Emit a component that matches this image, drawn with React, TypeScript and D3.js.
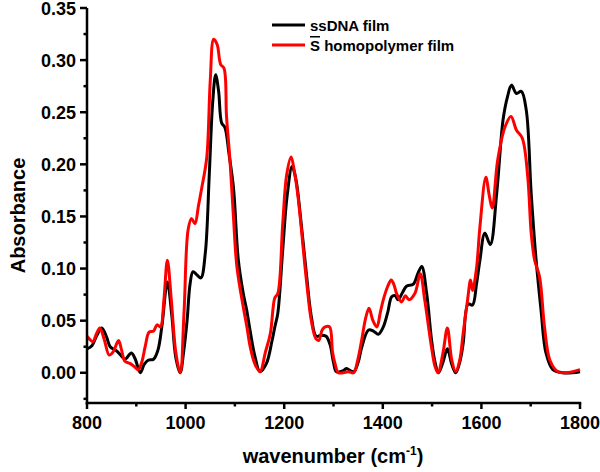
import React from "react";
import * as d3 from "d3";

// ssDNA film
const wnDNA = [800,810,820,830,840,847,860,870,877,890,898,908,916,924,935,944,952,963,972,980,989,996,1003,1009,1015,1023,1031,1040,1048,1055,1061,1067,1073,1080,1088,1097,1107,1117,1124,1131,1141,1151,1164,1175,1181,1187,1197,1206,1216,1224,1231,1245,1255,1265,1275,1285,1293,1300,1306,1320,1326,1341,1350,1357,1371,1381,1391,1401,1410,1418,1425,1431,1440,1448,1462,1471,1479,1489,1499,1506,1513,1522,1531,1540,1548,1556,1563,1573,1582,1590,1597,1607,1618,1631,1644,1653,1661,1671,1681,1691,1701,1711,1721,1731,1745,1765,1785,1800];
const absDNA = [0.023,0.026,0.036,0.043,0.034,0.025,0.021,0.016,0.013,0.019,0.013,0.0,0.008,0.012,0.013,0.022,0.045,0.087,0.055,0.015,0.0,0.02,0.05,0.085,0.097,0.094,0.091,0.115,0.19,0.26,0.286,0.27,0.24,0.235,0.21,0.178,0.108,0.076,0.06,0.04,0.015,0.001,0.009,0.03,0.044,0.057,0.118,0.17,0.198,0.185,0.159,0.095,0.054,0.035,0.036,0.035,0.027,0.01,0.001,0.002,0.004,0.001,0.01,0.024,0.041,0.04,0.037,0.044,0.058,0.073,0.074,0.07,0.077,0.083,0.085,0.095,0.102,0.076,0.031,0.01,0.0,0.01,0.023,0.008,0.0,0.01,0.028,0.066,0.065,0.085,0.108,0.134,0.123,0.172,0.243,0.265,0.276,0.268,0.27,0.252,0.172,0.108,0.06,0.019,0.003,0.0,0.0,0.001];

// S homopolymer film
const wnS = [800,812,818,826,835,845,853,864,870,877,887,896,904,911,918,926,935,942,949,956,963,971,980,989,997,1005,1012,1019,1026,1033,1043,1050,1057,1064,1071,1078,1083,1090,1097,1104,1117,1124,1131,1141,1151,1162,1172,1181,1187,1197,1205,1214,1220,1228,1245,1255,1264,1270,1277,1283,1292,1298,1303,1310,1330,1341,1349,1357,1365,1372,1380,1388,1395,1401,1410,1417,1423,1428,1438,1446,1453,1465,1476,1485,1499,1506,1512,1522,1531,1540,1548,1556,1563,1572,1578,1582,1590,1597,1609,1616,1622,1633,1648,1660,1671,1683,1694,1701,1708,1718,1728,1739,1755,1772,1800];
const absS = [0.035,0.03,0.036,0.043,0.032,0.017,0.02,0.031,0.022,0.011,0.009,0.006,0.003,0.01,0.025,0.039,0.04,0.046,0.044,0.07,0.108,0.07,0.02,0.0,0.06,0.137,0.148,0.143,0.16,0.178,0.207,0.28,0.32,0.315,0.296,0.292,0.246,0.204,0.15,0.102,0.063,0.045,0.025,0.008,0.001,0.02,0.038,0.072,0.076,0.143,0.19,0.207,0.195,0.169,0.089,0.05,0.033,0.031,0.041,0.044,0.044,0.02,0.009,0.0,0.001,0.0,0.012,0.031,0.052,0.062,0.05,0.044,0.058,0.07,0.083,0.089,0.084,0.076,0.068,0.074,0.07,0.076,0.095,0.07,0.024,0.006,0.0,0.019,0.043,0.012,0.001,0.012,0.038,0.07,0.089,0.079,0.1,0.14,0.1875,0.17,0.158,0.204,0.236,0.246,0.233,0.225,0.188,0.134,0.108,0.092,0.044,0.012,0.001,0.0,0.003];

const xMajor = [800, 1000, 1200, 1400, 1600, 1800];
const xMinor = [900, 1100, 1300, 1500, 1700];
const yMajor = [0, 0.05, 0.1, 0.15, 0.2, 0.25, 0.3, 0.35];
const yMinor = [-0.025, 0.025, 0.075, 0.125, 0.175, 0.225, 0.275, 0.325];

const seriesNames = ["ssDNA film", "homopolymer film"];
const seriesColors = ["#000000", "#ff0000"];

const FONT = "'Liberation Sans', Arial, sans-serif";

export default function App() {
  const x = d3.scaleLinear().domain([800, 1800]).range([87, 580]);
  const y = d3.scaleLinear().domain([-0.029, 0.35]).range([403, 8]);
  const line = d3
    .line<[number, number]>()
    .x((d) => x(d[0]))
    .y((d) => y(d[1]))
    .curve(d3.curveCatmullRom.alpha(0.5));
  const dna: [number, number][] = wnDNA.map((w, i) => [w, absDNA[i]]);
  const s: [number, number][] = wnS.map((w, i) => [w, absS[i]]);
  const x0 = x(800);
  const y0 = y(-0.029);
  return (
    <svg
      width={600}
      height={472}
      style={{ position: "absolute", left: 0, top: 0, background: "#fff" }}
      fontFamily={FONT}
      fontWeight="bold"
    >
      <rect width={600} height={472} fill="#fff" />
      <path d={line(dna) || ""} fill="none" stroke={seriesColors[0]} strokeWidth={3} strokeLinejoin="round" />
      <path d={line(s) || ""} fill="none" stroke={seriesColors[1]} strokeWidth={3} strokeLinejoin="round" />
      {/* axes */}
      <line x1={x0} x2={x0} y1={y(0.35)} y2={y0 + 1.25} stroke="#000" strokeWidth={2.5} />
      <line x1={x0 - 1.25} x2={x(1800) + 1.25} y1={y0} y2={y0} stroke="#000" strokeWidth={2.5} />
      {xMajor.map((v) => (
        <g key={"xm" + v}>
          <line x1={x(v)} x2={x(v)} y1={y0} y2={y0 + 6} stroke="#000" strokeWidth={2.5} />
          <text x={x(v)} y={429} textAnchor="middle" fontSize={18}>
            {v}
          </text>
        </g>
      ))}
      {xMinor.map((v) => (
        <line key={"xn" + v} x1={x(v)} x2={x(v)} y1={y0} y2={y0 + 3.5} stroke="#000" strokeWidth={2.5} />
      ))}
      {yMajor.map((v) => (
        <g key={"ym" + v}>
          <line x1={x0 - 7} x2={x0} y1={y(v)} y2={y(v)} stroke="#000" strokeWidth={2.5} />
          <text x={76} y={y(v) + 6.5} textAnchor="end" fontSize={18}>
            {d3.format(".2f")(v)}
          </text>
        </g>
      ))}
      {yMinor.map((v) => (
        <line key={"yn" + v} x1={x0 - 3.5} x2={x0} y1={y(v)} y2={y(v)} stroke="#000" strokeWidth={2.5} />
      ))}
      <text
        transform={`translate(25,${(y(0.35) + y0) / 2 + 10}) rotate(-90)`}
        textAnchor="middle"
        fontSize={20}
      >
        Absorbance
      </text>
      <text x={333} y={463} textAnchor="middle" fontSize={20}>
        wavenumber (cm
        <tspan fontSize={12} dy={-8}>-1</tspan>
        <tspan dy={8}>)</tspan>
      </text>
      {/* legend */}
      <line x1={272} x2={305} y1={25} y2={25} stroke={seriesColors[0]} strokeWidth={3} />
      <text x={310} y={31} fontSize={15}>
        {seriesNames[0]}
      </text>
      <line x1={272} x2={305} y1={45} y2={45} stroke={seriesColors[1]} strokeWidth={3} />
      <text x={310} y={51} fontSize={15}>
        <tspan style={{ textDecoration: "overline" }}>S</tspan> {seriesNames[1]}
      </text>
    </svg>
  );
}
